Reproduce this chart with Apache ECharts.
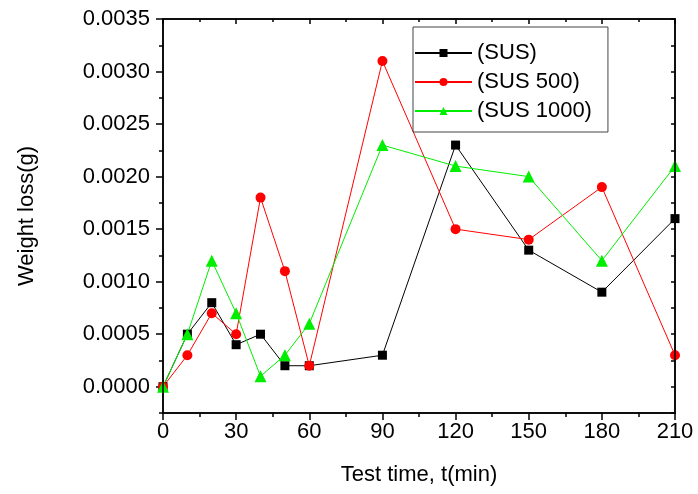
<!DOCTYPE html>
<html>
<head>
<meta charset="utf-8">
<script src="https://cdn.jsdelivr.net/npm/echarts@6/dist/echarts.min.js"></script>
<style>
  html, body { margin: 0; padding: 0; background: #fff; }
  #chart { width: 698px; height: 494px; }
</style>
</head>
<body>
<div id="chart"></div>
<script>
// Test times (min)
const times = [0, 10, 20, 30, 40, 50, 60, 90, 120, 150, 180, 210];
// Weight loss (g) for each specimen
const susLoss     = [0, 0.0005, 0.0008, 0.0004, 0.0005, 0.0002, 0.0002, 0.0003, 0.0023, 0.0013, 0.0009, 0.0016];
const sus500Loss  = [0, 0.0003, 0.0007, 0.0005, 0.0018, 0.0011, 0.0002, 0.0031, 0.0015, 0.0014, 0.0019, 0.0003];
const sus1000Loss = [0, 0.0005, 0.0012, 0.0007, 0.0001, 0.0003, 0.0006, 0.0023, 0.0021, 0.0020, 0.0012, 0.0021];
const seriesNames = ['(SUS)', '(SUS 500)', '(SUS 1000)'];
// Labelled y ticks
const yTicks = [0, 0.0005, 0.0010, 0.0015, 0.0020, 0.0025, 0.0030, 0.0035];

const FONT = '"Liberation Sans", Arial, sans-serif';
const FS = 22;
const pairs = vals => times.map((t, i) => [t, vals[i]]);

const W = 698, H = 494;
const GRID = { left: 163, right: 23, top: 19, bottom: 81 };
const xMin = 0, xMax = 210;
const yMin = -0.00025, yMax = 0.0035;
const black = () => ({ color: '#000', width: 1.5 });

const chart = echarts.init(document.getElementById('chart'));
chart.setOption({
  animation: false,
  grid: Object.assign({ containLabel: false }, GRID),
  legend: {
    left: 413, top: 27, z: 50,
    orient: 'vertical',
    data: seriesNames,
    itemWidth: 57, itemHeight: 10, itemGap: 7,
    padding: [15, 16, 10, 1],
    borderColor: '#444', borderWidth: 1,
    textStyle: { fontFamily: FONT, fontSize: FS, color: '#000' }
  },
  xAxis: [
    {
      type: 'value', min: xMin, max: xMax, interval: 30, position: 'bottom',
      name: 'Test time, t(min)', nameLocation: 'middle', nameGap: 51,
      nameTextStyle: { fontFamily: FONT, fontSize: FS, color: '#000' },
      axisLine: { show: true, onZero: false, lineStyle: black() },
      axisTick: { show: true, length: 7, lineStyle: black() },
      minorTick: { show: true, splitNumber: 2, length: 4, lineStyle: black() },
      axisLabel: { fontFamily: FONT, fontSize: FS, color: '#000', margin: 8 },
      splitLine: { show: false }
    },
    {
      type: 'value', min: xMin, max: xMax, interval: 30, position: 'top',
      axisLine: { show: true, onZero: false, lineStyle: black() },
      axisTick: { show: true, inside: true, length: 5, lineStyle: black() },
      minorTick: { show: true, splitNumber: 2, length: 3, lineStyle: black() },
      axisLabel: { show: false },
      splitLine: { show: false }
    }
  ],
  yAxis: [
    {
      type: 'value', min: yMin, max: yMax, position: 'left',
      name: 'Weight loss(g)', nameLocation: 'middle', nameGap: 125,
      nameTextStyle: { fontFamily: FONT, fontSize: FS, color: '#000' },
      axisLine: { show: true, onZero: false, lineStyle: black() },
      axisTick: { show: true, length: 7, customValues: yTicks, lineStyle: black() },
      axisLabel: {
        customValues: yTicks,
        fontFamily: FONT, fontSize: FS, color: '#000', margin: 13,
        formatter: v => v.toFixed(4)
      },
      splitLine: { show: false }
    },
    {
      // short ticks every 0.00025 on the left
      type: 'value', min: yMin, max: yMax, interval: 0.00025, position: 'left',
      axisLine: { show: false, onZero: false },
      axisTick: { show: true, length: 4, lineStyle: black() },
      axisLabel: { show: false },
      splitLine: { show: false }
    },
    {
      type: 'value', min: yMin, max: yMax, interval: 0.00025, position: 'right',
      axisLine: { show: true, onZero: false, lineStyle: black() },
      axisTick: { show: true, inside: true, length: 4, lineStyle: black() },
      axisLabel: { show: false },
      splitLine: { show: false }
    }
  ],
  // plot frame drawn over the grid edges
  graphic: [{
    type: 'rect', z: 100, silent: true,
    shape: {
      x: GRID.left, y: GRID.top,
      width: W - GRID.left - GRID.right,
      height: H - GRID.top - GRID.bottom
    },
    style: { fill: 'rgba(0,0,0,0)', stroke: '#000', lineWidth: 1.5 }
  }],
  series: [
    {
      name: seriesNames[0], type: 'line', data: pairs(susLoss),
      symbol: 'rect', symbolSize: 9,
      lineStyle: { color: '#000', width: 1 },
      itemStyle: { color: '#000' }
    },
    {
      name: seriesNames[1], type: 'line', data: pairs(sus500Loss),
      symbol: 'circle', symbolSize: 10,
      lineStyle: { color: '#ff0000', width: 1 },
      itemStyle: { color: '#ff0000' }
    },
    {
      name: seriesNames[2], type: 'line', data: pairs(sus1000Loss),
      symbol: 'triangle', symbolSize: 12,
      lineStyle: { color: '#00ee00', width: 1 },
      itemStyle: { color: '#00ee00' }
    }
  ]
});
</script>
</body>
</html>
